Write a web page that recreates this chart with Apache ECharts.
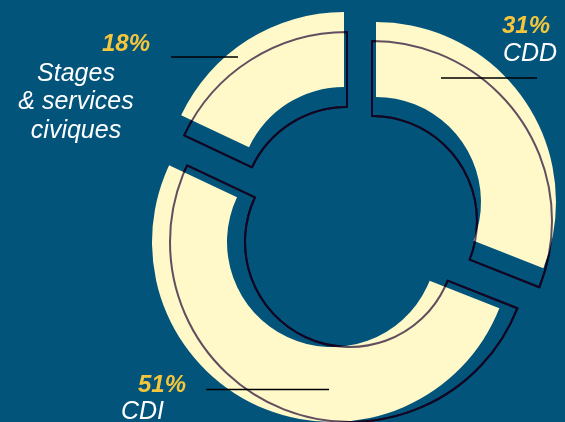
<!DOCTYPE html>
<html><head><meta charset="utf-8">
<script src="https://cdn.jsdelivr.net/npm/echarts@6/dist/echarts.min.js"></script>
<style>html,body{margin:0;padding:0;background:#02547B;}#c{width:565px;height:422px;}</style>
</head><body><div id="c"></div>
<script>
// ---- data ----
const categories = ['CDD', 'CDI', 'Stages\n& services\nciviques'];
const values = [31, 51, 18];
const pctLabels = values.map(v => v + '%');

// ---- styles / layout ----
const BG = '#02547B', FILL = '#FFF8C9', GOLD = '#F5C63C', WHITE = '#FFFFFF';
const FONT = '"Liberation Sans", Arial, sans-serif';
// per-slice placement (exploded pieces): outline shape centre and offset cream shape centre
const sliceLayout = [
  { outline: [372, 221], fill: [376, 202] },
  { outline: [350, 242], fill: [332, 242] },
  { outline: [347, 212], fill: [344, 192] }
];
// label anchor positions (pct text, name text, leader line) per category
const labelLayout = [
  { pct: [502, 26, 'left'], name: [503, 54.5, 'left'], line: [441, 78, 537, 78] },
  { pct: [138, 385, 'left'], name: [121, 412.5, 'left'], line: [206, 389.5, 329, 389.5] },
  { pct: [150, 44, 'right'], name: [76, 102.5, 'center'], line: [171, 57, 238, 57] }
];

const chart = echarts.init(document.getElementById('c'), null, { renderer: 'canvas' });
const HIDDEN = { color: 'rgba(0,0,0,0)', borderWidth: 0 };

// one pie per visible piece: full data (so angles come from the values), only slice k drawn
function piece(k, center, style, z) {
  return {
    type: 'pie', center: center, radius: [105, 180], startAngle: 90, clockwise: true,
    avoidLabelOverlap: false, label: { show: false }, labelLine: { show: false },
    emphasis: { disabled: true }, silent: true, animation: false, z: z,
    data: categories.map((c, i) => ({
      name: c, value: values[i], itemStyle: i === k ? style : HIDDEN
    }))
  };
}

const series = [];
const layers = [
  { key: 'outline', style: { color: 'rgba(0,0,0,0)', borderColor: '#000', borderWidth: 2 } },
  { key: 'fill', style: { color: FILL, borderWidth: 0 } },
  { key: 'outline', style: { color: 'rgba(0,0,0,0)', borderColor: 'rgba(30,5,50,0.7)', borderWidth: 2 } }
];
layers.forEach((ly, li) => {
  categories.forEach((c, k) => series.push(piece(k, sliceLayout[k][ly.key], ly.style, li + 1)));
});

const graphics = [];
categories.forEach((c, i) => {
  const L = labelLayout[i];
  graphics.push({
    type: 'line', z: 100, silent: true,
    shape: { x1: L.line[0], y1: L.line[1], x2: L.line[2], y2: L.line[3] },
    style: { stroke: '#000', lineWidth: 1.5 }
  });
  graphics.push({
    type: 'text', z: 100, silent: true, x: L.pct[0], y: L.pct[1],
    style: { text: pctLabels[i], fill: GOLD, font: 'italic bold 24px ' + FONT,
      align: L.pct[2], verticalAlign: 'middle' }
  });
  graphics.push({
    type: 'text', z: 100, silent: true, x: L.name[0], y: L.name[1],
    style: { text: c, fill: WHITE, font: 'italic 25px ' + FONT, lineHeight: 28.5,
      align: L.name[2], verticalAlign: 'middle' }
  });
});

chart.setOption({
  backgroundColor: BG,
  animation: false,
  series: series,
  graphic: graphics
});
</script></body></html>
